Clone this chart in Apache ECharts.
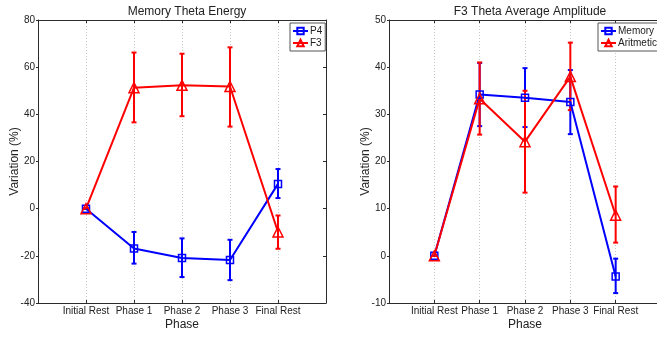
<!DOCTYPE html>
<html>
<head>
<meta charset="utf-8">
<script src="https://cdn.jsdelivr.net/npm/echarts@6/dist/echarts.min.js"></script>
<style>
  html, body { margin: 0; padding: 0; background: #fff; }
  #main { width: 657px; height: 339px; }
</style>
</head>
<body>
<div id="main"></div>
<script>
// phases on the x axis, placed at 1..5 on a 0..6 axis
const phases = ['Initial Rest', 'Phase 1', 'Phase 2', 'Phase 3', 'Final Rest'];

// Memory Theta Energy
const p4Mean = [0, -16.9, -20.9, -21.8, 10.5];
const p4Low = [0, -23.3, -29.0, -30.3, 4.5];
const p4High = [0, -9.9, -12.6, -13.2, 16.8];
const f3Mean = [0, 51.3, 52.3, 51.8, -9.9];
const f3Low = [0, 36.6, 39.2, 34.8, -17.0];
const f3High = [0, 66.2, 65.7, 68.4, -2.9];

// F3 Theta Average Amplitude
const memMean = [0, 34.2, 33.5, 32.6, -4.4];
const memLow = [0, 27.5, 27.3, 25.8, -7.9];
const memHigh = [0, 40.9, 39.8, 39.4, -0.6];
const ariMean = [0, 33.3, 24.2, 38.0, 8.6];
const ariLow = [0, 25.7, 13.4, 30.9, 2.8];
const ariHigh = [0, 41.0, 35.0, 45.2, 14.7];

const BLUE = '#0000ff';
const RED = '#ff0000';
const AXIS = '#2b2b2b';
const FONT = 'Liberation Sans, Arial, sans-serif';

const chart = echarts.init(document.getElementById('main'), null, { renderer: 'canvas' });

function pts(vals) {
    return vals.map((v, i) => [i + 1, v]);
}
function bars(lo, hi) {
    return lo.map((v, i) => [i + 1, v, hi[i]]);
}

// vertical error bar with small caps, drawn through the axis scales
function errorSeries(name, lo, hi, color, gi) {
    return {
        name: name + ' error',
        type: 'custom',
        xAxisIndex: gi * 2,
        yAxisIndex: gi * 2,
        data: bars(lo, hi),
        encode: { x: 0, y: [1, 2] },
        silent: true,
        renderItem: function (params, api) {
            const x = api.value(0);
            const a = api.coord([x, api.value(1)]);
            const b = api.coord([x, api.value(2)]);
            const w = 2.5;
            const st = { stroke: color, lineWidth: 2 };
            return {
                type: 'group',
                children: [
                    { type: 'line', shape: { x1: a[0], y1: a[1], x2: b[0], y2: b[1] }, style: st },
                    { type: 'line', shape: { x1: a[0] - w, y1: a[1], x2: a[0] + w, y2: a[1] }, style: st },
                    { type: 'line', shape: { x1: b[0] - w, y1: b[1], x2: b[0] + w, y2: b[1] }, style: st }
                ]
            };
        }
    };
}

function lineSeries(name, vals, color, symbol, size, gi) {
    return {
        name: name,
        type: 'line',
        xAxisIndex: gi * 2,
        yAxisIndex: gi * 2,
        data: pts(vals),
        symbol: symbol,
        symbolSize: size,
        showAllSymbol: true,
        lineStyle: { color: color, width: 2 },
        itemStyle: { color: 'rgba(0,0,0,0)', borderColor: color, borderWidth: 1.5 },
        emphasis: { disabled: true },
        animation: false
    };
}

function xAxes(gi) {
    const bottom = {
        type: 'value', gridIndex: gi, min: 0, max: 6, interval: 1,
        position: 'bottom',
        axisLine: { show: true, onZero: false, lineStyle: { color: AXIS, width: 1 } },
        axisTick: { show: true, inside: true, length: 3, lineStyle: { color: AXIS } },
        axisLabel: {
            color: '#222', fontSize: 10, fontFamily: FONT, margin: 3,
            formatter: v => phases[v - 1] || ''
        },
        splitLine: { show: true, lineStyle: { color: '#c8c8c8', type: [1, 2], width: 1 } },
        name: 'Phase', nameLocation: 'middle', nameGap: 16, nameMoveOverlap: false,
        nameTextStyle: { color: '#222', fontSize: 12, fontFamily: FONT, verticalAlign: 'top' }
    };
    const top = {
        type: 'value', gridIndex: gi, min: 0, max: 6, interval: 1,
        position: 'top',
        axisLine: { show: true, onZero: false, lineStyle: { color: AXIS, width: 1 } },
        axisTick: { show: true, inside: true, length: 3, lineStyle: { color: AXIS } },
        axisLabel: { show: false },
        splitLine: { show: false }
    };
    return [bottom, top];
}

function yAxes(gi, min, max, interval) {
    const left = {
        type: 'value', gridIndex: gi, min: min, max: max, interval: interval,
        position: 'left',
        axisLine: { show: true, onZero: false, lineStyle: { color: AXIS, width: 1 } },
        axisTick: { show: true, inside: false, length: 2, lineStyle: { color: AXIS } },
        axisLabel: { color: '#222', fontSize: 10, fontFamily: FONT, margin: 3 },
        splitLine: { show: false },
        name: 'Variation (%)', nameLocation: 'middle', nameGap: 17, nameMoveOverlap: false,
        nameTextStyle: { color: '#222', fontSize: 12, fontFamily: FONT }
    };
    const right = {
        type: 'value', gridIndex: gi, min: min, max: max, interval: interval,
        position: 'right',
        axisLine: { show: true, onZero: false, lineStyle: { color: AXIS, width: 1 } },
        axisTick: { show: true, inside: true, length: 3, lineStyle: { color: AXIS } },
        axisLabel: { show: false },
        splitLine: { show: false }
    };
    return [left, right];
}

function legend(names, left) {
    return {
        data: names,
        orient: 'vertical',
        left: left,
        top: 23,
        itemWidth: 15,
        itemHeight: 8,
        itemGap: 2,
        padding: [3, 3, 3, 2],
        borderColor: '#555',
        borderWidth: 1,
        backgroundColor: '#fff',
        selectedMode: false,
        textStyle: { color: '#222', fontSize: 10, fontFamily: FONT, padding: [0, 0, 0, -3] }
    };
}

const option = {
    animation: false,
    backgroundColor: '#fff',
    title: [
        { text: 'Memory Theta Energy', left: 182, top: 1, textAlign: 'center',
          textStyle: { color: '#222', fontSize: 12, fontWeight: 'normal', fontFamily: FONT } },
        { text: 'F3 Theta Average Amplitude', left: 525, top: 1, textAlign: 'center',
          textStyle: { color: '#222', fontSize: 12, fontWeight: 'normal', fontFamily: FONT } }
    ],
    grid: [
        { left: 38, top: 20, width: 288, height: 283, outerBoundsMode: 'none' },
        { left: 389, top: 20, width: 272, height: 283, outerBoundsMode: 'none' }
    ],
    legend: [legend(['P4', 'F3'], 290), legend(['Memory', 'Aritmetic'], 598)],
    xAxis: xAxes(0).concat(xAxes(1)),
    yAxis: yAxes(0, -40, 80, 20).concat(yAxes(1, -10, 50, 10)),
    series: [
        errorSeries('P4', p4Low, p4High, BLUE, 0),
        lineSeries('P4', p4Mean, BLUE, 'rect', 7, 0),
        errorSeries('F3', f3Low, f3High, RED, 0),
        lineSeries('F3', f3Mean, RED, 'triangle', 10, 0),
        errorSeries('Memory', memLow, memHigh, BLUE, 1),
        lineSeries('Memory', memMean, BLUE, 'rect', 7, 1),
        errorSeries('Aritmetic', ariLow, ariHigh, RED, 1),
        lineSeries('Aritmetic', ariMean, RED, 'triangle', 10, 1)
    ]
};

chart.setOption(option);
</script>
</body>
</html>
